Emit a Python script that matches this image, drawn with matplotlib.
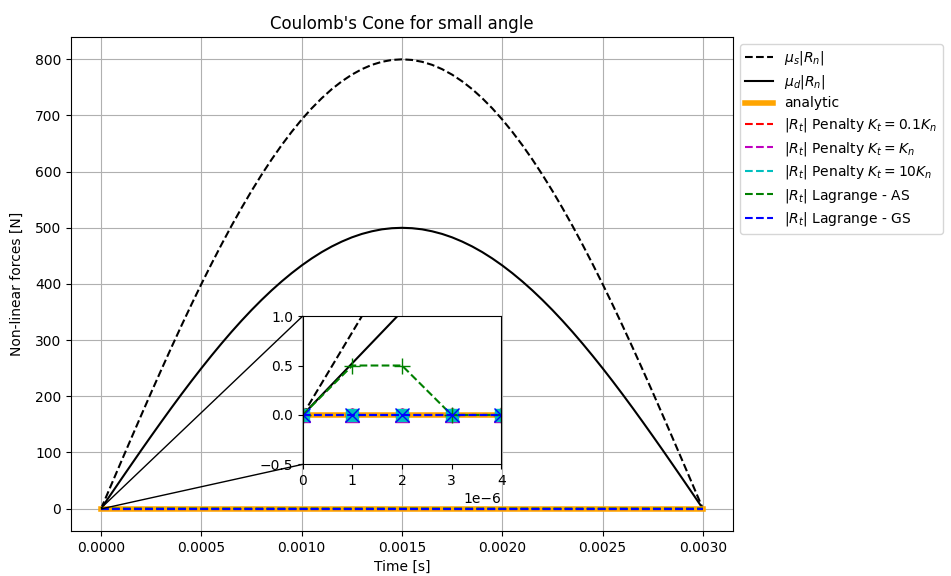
import numpy as np
import matplotlib
matplotlib.use("Agg")
import matplotlib.pyplot as plt
from mpl_toolkits.axes_grid1.inset_locator import mark_inset

t_cone = np.linspace(0.0, 0.003, 61)
mus_rn = [0, 41.9, 83.6, 125.1, 166.3, 207.1, 247.2, 286.7, 325.4, 363.2,
          400.0, 435.7, 470.2, 503.5, 535.3, 565.7, 594.5, 621.7, 647.2, 670.9,
          692.8, 712.8, 730.8, 746.9, 760.8, 772.7, 782.5, 790.2, 795.6, 798.9,
          800.0,
          798.9, 795.6, 790.2, 782.5, 772.7, 760.8, 746.9, 730.8, 712.8, 692.8,
          670.9, 647.2, 621.7, 594.5, 565.7, 535.3, 503.5, 470.2, 435.7, 400.0,
          363.2, 325.4, 286.7, 247.2, 207.1, 166.3, 125.1, 83.6, 41.9, 0]
mud_rn = [0, 26.2, 52.3, 78.2, 104.0, 129.4, 154.5, 179.2, 203.4, 227.0,
          250.0, 272.3, 293.9, 314.7, 334.6, 353.6, 371.6, 388.6, 404.5, 419.3,
          433.0, 445.5, 456.8, 466.8, 475.5, 483.0, 489.1, 493.8, 497.3, 499.3,
          500.0,
          499.3, 497.3, 493.8, 489.1, 483.0, 475.5, 466.8, 456.8, 445.5, 433.0,
          419.3, 404.5, 388.6, 371.6, 353.6, 334.6, 314.7, 293.9, 272.3, 250.0,
          227.0, 203.4, 179.2, 154.5, 129.4, 104.0, 78.2, 52.3, 26.2, 0]

# tangential reactions (first steps + end of simulation)
t_rt = [0.0, 1e-6, 2e-6, 3e-6, 4e-6, 0.003]
analytic = [0, 0, 0, 0, 0, 0]
pen_01 = [0, 0, 0, 0, 0, 0]
pen_1 = [0, 0, 0, 0, 0, 0]
pen_10 = [0, 0, 0, 0, 0, 0]
lag_as = [0, 0.5, 0.5, 0, 0, 0]
lag_gs = [0, 0, 0, 0, 0, 0]

fig = plt.figure(figsize=(9.51, 5.76), dpi=100)
ax = fig.add_axes([0.0747, 0.078, 0.696, 0.858])

ax.plot(t_cone, mus_rn, 'k--', label=r'$\mu_s|R_n|$')
ax.plot(t_cone, mud_rn, 'k-', label=r'$\mu_d|R_n|$')
ax.plot(t_rt, analytic, color='orange', lw=4, label='analytic')
ax.plot(t_rt, pen_01, 'r--', label=r'$|R_t|$ Penalty $K_t=0.1K_n$')
ax.plot(t_rt, pen_1, 'm--', label=r'$|R_t|$ Penalty $K_t=K_n$')
ax.plot(t_rt, pen_10, 'c--', label=r'$|R_t|$ Penalty $K_t=10K_n$')
ax.plot(t_rt, lag_as, 'g--', label=r'$|R_t|$ Lagrange - AS')
ax.plot(t_rt, lag_gs, 'b--', label=r'$|R_t|$ Lagrange - GS')
ax.grid(True)
ax.set_xlabel('Time [s]')
ax.set_ylabel('Non-linear forces [N]', labelpad=8)
ax.set_title("Coulomb's Cone for small angle")
ax.legend(loc='upper left', bbox_to_anchor=(1.0, 1.0), labelspacing=0.4)

# zoom on the first time steps
axins = ax.inset_axes([0.35, 0.135, 0.3, 0.3])
axins.plot(t_cone, mus_rn, 'k--')
axins.plot(t_cone, mud_rn, 'k-')
axins.plot(t_rt, analytic, color='orange', lw=4)
axins.plot(t_rt, pen_01, 'r--o', ms=9)
axins.plot(t_rt, pen_1, 'm--^', ms=10)
axins.plot(t_rt, pen_10, 'c--s', ms=9)
axins.plot(t_rt, lag_as, 'g--+', ms=11)
axins.plot(t_rt, lag_gs, 'b--x', ms=10)
axins.set_xlim(0, 4e-6)
axins.set_ylim(-0.5, 1.0)
mark_inset(ax, axins, loc1=2, loc2=3, fc='none', ec='0')

fig.savefig('out.png', dpi=100)
